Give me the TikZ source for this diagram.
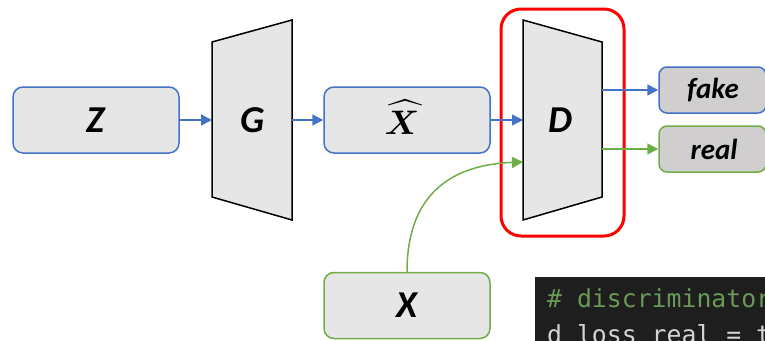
\documentclass[tikz,border=0pt]{standalone}
\usepackage{fontspec}
\usepackage{bm}
\usepackage{graphicx}
\usetikzlibrary{arrows.meta}
\newfontfamily\labfont{Carlito}
\newfontfamily\codefont{DejaVu Sans Mono}
\definecolor{bblue}{HTML}{4472C4}
\definecolor{ggreen}{HTML}{70AD47}
\definecolor{lgray}{HTML}{E7E6E6}
\definecolor{dgray}{HTML}{D0CECE}
\definecolor{codebg}{HTML}{1E1E1E}
\definecolor{codecom}{HTML}{6A9955}
\definecolor{codetxt}{HTML}{D4D4D4}
\tikzset{
  databox/.style={draw, fill=lgray, rounded corners=10pt, line width=1.5pt,
    minimum width=166pt, minimum height=66pt, inner sep=0pt,
    font=\labfont\bfseries\itshape\fontsize{38}{40}\selectfont},
  outbox/.style={draw, fill=dgray, rounded corners=8pt, line width=1.5pt,
    minimum width=107pt, minimum height=46pt, inner sep=0pt},
  outlab/.style={font=\labfont\bfseries\itshape\fontsize{29}{30}\selectfont, inner sep=0pt},
  netlab/.style={font=\labfont\bfseries\itshape\fontsize{38}{40}\selectfont, inner sep=0pt},
  net/.style={draw=black, fill=lgray, line width=1.5pt, line join=miter},
  arr/.style={line width=1.5pt, -{Triangle[length=11pt,width=11pt]}},
  codeline/.style={anchor=base west, inner sep=0pt, font=\codefont\fontsize{24.8}{30}\selectfont}
}
\begin{document}
\begin{tikzpicture}[x=1pt,y=-1pt]
\useasboundingbox (0,0) rectangle (765,340);
\clip (0,0) rectangle (765,340);
% boxes
\node[databox, draw=bblue] (z) at (96,120) {Z};
\node[databox, draw=bblue, font=\normalsize] (xh) at (407,120) {};
\node[inner sep=0pt] (xhl) at (402,117) {\scalebox{3.4}{$\widehat{\bm{X}}$}};
\node[databox, draw=ggreen] (x) at (407,305.5) {X};
% generator
\coordinate (gW) at (212,120);
\coordinate (gE) at (292,120);
\draw[net] (212,42) -- (292,20) -- (292,220) -- (212,197) -- cycle;
\node[netlab] (g) at (253,120) {G};
% discriminator
\coordinate (dW) at (523,120);
\coordinate (dWlow) at (523,162);
\coordinate (dEup) at (602,90);
\coordinate (dElow) at (602,149);
\draw[net] (523,20) -- (602,42) -- (602,197) -- (523,220) -- cycle;
\node[netlab] (d) at (560,120) {D};
\draw[red, line width=3pt, rounded corners=20pt] (501,9) rectangle (624,236);
% outputs
\node[outbox, draw=bblue] (fake) at (712.5,90) {};
\node[outlab] at (713,90) {fake};
\node[outbox, draw=ggreen] (real) at (712.5,149) {};
\node[outlab] at (714,149) {real};
% arrows
\draw[arr, bblue] (z.east) -- (gW);
\draw[arr, bblue] (gE) -- (xh.west);
\draw[arr, bblue] (xh.east) -- (dW);
\draw[arr, bblue] (dEup) -- (fake.west);
\draw[arr, ggreen] (dElow) -- (real.west);
\draw[arr, ggreen] (x.north) .. controls (407,200) and (445,165) .. (dWlow);
% code
\fill[codebg] (535,277) rectangle (770,345);
\node[codeline, text=codecom] (c1) at (547,307) {\# discriminator};
\node[codeline, text=codetxt] (c2) at (547,343) {d\_loss\_real = t};
\end{tikzpicture}
\end{document}
